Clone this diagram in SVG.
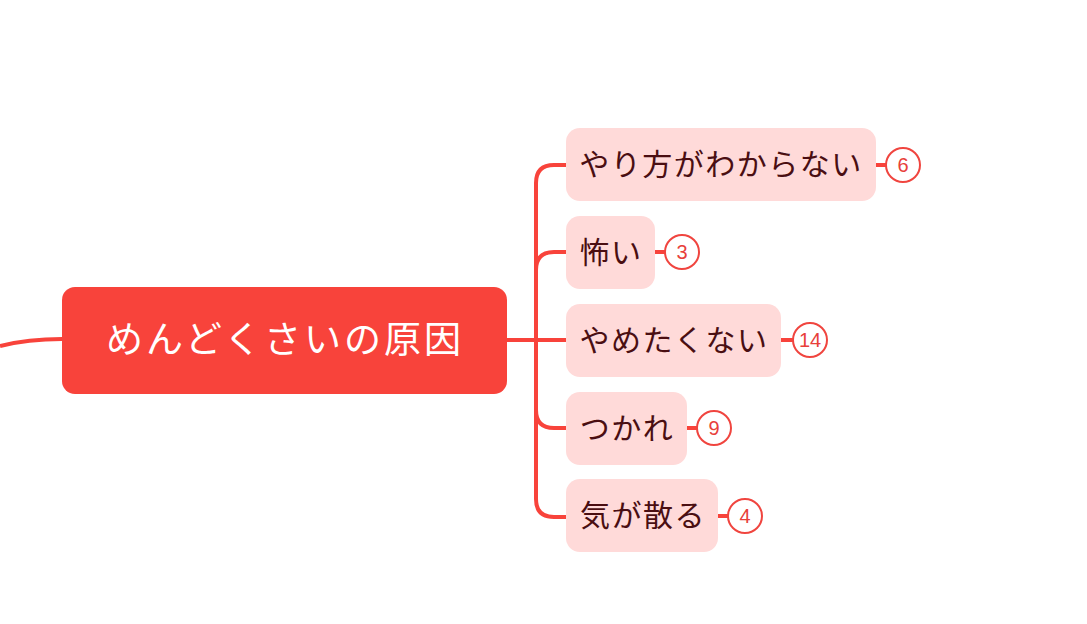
<svg xmlns="http://www.w3.org/2000/svg" width="1087" height="624" viewBox="0 0 1087 624">
<style>
.ln{fill:none;stroke:#F8433B;stroke-width:4;stroke-linecap:butt}
.child rect{fill:#FFDAD9}
.child text{font-family:"Noto Sans CJK JP","Noto Sans",sans-serif;font-size:30px;fill:#4A0E12;letter-spacing:1.5px;text-anchor:middle;dominant-baseline:central}
.badge circle{fill:#fff;stroke:#F0453F;stroke-width:2}
.badge text{font-family:"Liberation Sans",Arial,sans-serif;font-size:20px;fill:#E8403A;text-anchor:middle;dominant-baseline:central}
.root text{font-family:"Noto Sans CJK JP","Noto Sans",sans-serif;font-size:37px;fill:#fff;letter-spacing:3px;text-anchor:middle;dominant-baseline:central}
</style>
<rect width="1087" height="624" fill="#fff"/>
<g id="connectors">
<path class="ln" d="M0,346 Q28,339 62,339"/>
<path class="ln" d="M507,340 H566"/>
<path class="ln" d="M566,165 H554 Q536,165 536,183 V499 Q536,517 554,517 H566"/>
<path class="ln" d="M536,270 Q536,252 554,252 H566"/>
<path class="ln" d="M536,410 Q536,428 554,428 H566"/>
<path class="ln" d="M876,165 H887"/>
<path class="ln" d="M655,252 H666"/>
<path class="ln" d="M781,340 H793"/>
<path class="ln" d="M687,428 H698"/>
<path class="ln" d="M718,516 H729"/>
</g>
<g id="root" class="root">
<rect x="62" y="287" width="445" height="107" rx="13" fill="#F8433B"/>
<text x="285" y="337">めんどくさいの原因</text>
</g>
<g id="n1" class="child"><rect x="566" y="128" width="310" height="73" rx="14"/><text x="721" y="162">やり方がわからない</text></g>
<g id="n2" class="child"><rect x="566" y="216" width="89" height="73" rx="14"/><text x="611" y="250">怖い</text></g>
<g id="n3" class="child"><rect x="566" y="304" width="215" height="73" rx="14"/><text x="674" y="338">やめたくない</text></g>
<g id="n4" class="child"><rect x="566" y="392" width="121" height="73" rx="14"/><text x="627" y="426">つかれ</text></g>
<g id="n5" class="child"><rect x="566" y="479" width="152" height="73" rx="14"/><text x="643" y="513">気が散る</text></g>
<g id="b1" class="badge"><circle cx="903" cy="165" r="17"/><text x="903" y="165">6</text></g>
<g id="b2" class="badge"><circle cx="682" cy="252" r="17"/><text x="682" y="252">3</text></g>
<g id="b3" class="badge"><circle cx="810" cy="340" r="17"/><text x="810" y="340">14</text></g>
<g id="b4" class="badge"><circle cx="714" cy="428" r="17"/><text x="714" y="428">9</text></g>
<g id="b5" class="badge"><circle cx="745" cy="516" r="17"/><text x="745" y="516">4</text></g>
</svg>
